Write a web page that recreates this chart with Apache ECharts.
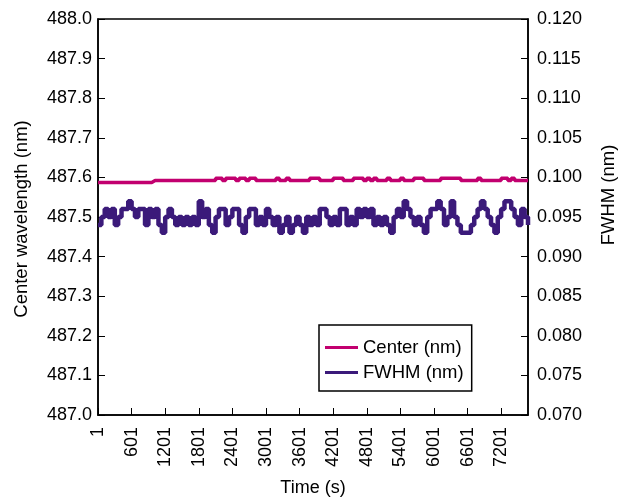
<!DOCTYPE html>
<html>
<head>
<meta charset="utf-8">
<script src="https://cdn.jsdelivr.net/npm/echarts@6/dist/echarts.min.js"></script>
<style>
html,body{margin:0;padding:0;background:#fff;}
#chart{width:630px;height:501px;}
</style>
</head>
<body>
<div id="chart"></div>
<script>
// ---- Data ----
const SAMPLE_STEP_S = 60;      // seconds between samples
const TIME_MAX_S = 7680;
const TIME_TICK_STEP = 600;
const seriesNames = ['Center (nm)', 'FWHM (nm)'];

const centerNm = [
  487.587,487.587,487.587,487.587,487.587,487.587,487.587,487.587,
  487.587,487.587,487.587,487.587,487.587,487.587,487.587,487.587,
  487.592,487.592,487.592,487.592,487.592,487.592,487.592,487.592,487.592,487.592,
  487.592,487.592,487.592,487.592,487.592,487.592,487.592,487.592,487.592,
  487.598,487.598,487.592,487.598,487.598,487.598,487.592,487.598,487.598,487.592,487.598,487.598,
  487.592,487.592,487.592,487.592,487.592,487.592,
  487.598,487.592,487.592,487.598,
  487.592,487.592,487.592,487.592,487.592,487.592,
  487.598,487.598,487.598,
  487.592,487.592,487.592,487.592,
  487.598,487.598,487.598,
  487.592,487.592,487.592,
  487.598,487.598,487.598,
  487.592,487.598,487.592,487.598,
  487.592,487.592,487.592,
  487.598,
  487.592,487.592,487.592,
  487.598,
  487.592,487.592,487.592,
  487.598,487.598,487.598,
  487.592,487.592,487.592,487.592,487.592,
  487.598,487.598,487.598,487.598,487.598,487.598,
  487.592,487.592,487.592,487.592,487.592,
  487.598,
  487.592,487.592,487.592,487.592,487.592,487.592,
  487.598,487.598,
  487.592,487.598,
  487.592,487.592,487.592,487.592,487.592
];

const fwhmNm = [
  0.094,0.095,0.096,0.095,0.096,0.094,0.095,0.096,0.096,0.097,
  0.096,0.095,0.096,0.096,0.094,0.096,0.095,0.096,0.094,0.093,
  0.095,0.096,0.095,0.094,0.095,0.094,0.095,
  0.094,0.095,0.094,0.097,0.095,0.096,0.094,0.093,0.095,0.096,
  0.096,0.094,0.095,0.096,0.096,0.094,0.093,0.095,0.096,0.096,
  0.094,0.095,0.094,0.096,0.095,0.094,
  0.095,0.093,0.094,0.095,0.093,0.094,0.095,0.094,0.093,0.095,
  0.094,0.095,0.094,0.096,0.096,0.095,0.094,0.095,0.094,0.096,
  0.096,0.094,0.095,0.094,0.096,0.095,
  0.096,0.095,0.096,0.094,0.095,0.094,0.095,0.094,0.093,0.095,
  0.096,0.095,0.097,0.096,0.095,0.094,0.095,0.094,0.093,0.095,
  0.096,0.096,0.097,0.096,0.094,0.095,
  0.097,0.095,0.094,0.093,0.093,0.093,0.094,0.095,0.096,0.097,
  0.096,0.095,0.094,0.093,0.095,0.096,0.097,0.097,0.096,0.095,
  0.094,0.096,0.095,0.094
];

// ---- Build chart ----
const FONT = '"Liberation Sans", Arial, Helvetica, sans-serif';
const centerData = centerNm.map((v, i) => [i * SAMPLE_STEP_S, v]);
const fwhmData = fwhmNm.map((v, i) => [i * SAMPLE_STEP_S, v]);
const lineIcon = 'path://M0,0 L33,0 L33,3 L0,3 Z';

const chart = echarts.init(document.getElementById('chart'), null, {renderer: 'canvas'});
chart.setOption({
  animation: false,
  backgroundColor: '#fff',
  textStyle: {fontFamily: FONT, color: '#000'},
  grid: {left: 98, right: 102, top: 19, bottom: 86, show: true, borderColor: '#000', borderWidth: 1.5},
  xAxis: {
    type: 'value', min: 0, max: TIME_MAX_S, interval: TIME_TICK_STEP,
    axisLine: {lineStyle: {color: '#000', width: 1.5}},
    axisTick: {inside: true, length: 7, lineStyle: {color: '#000', width: 1}},
    splitLine: {show: false},
    axisLabel: {rotate: 90, margin: 12, fontSize: 18, color: '#000', fontFamily: FONT,
      showMaxLabel: false, formatter: v => String(v + 1)}
  },
  yAxis: [{
    type: 'value', min: 487.0, max: 488.0, interval: 0.1,
    axisLine: {show: true, lineStyle: {color: '#000', width: 1.5}},
    axisTick: {show: true, inside: true, length: 7, lineStyle: {color: '#000', width: 1}},
    splitLine: {show: false},
    axisLabel: {margin: 6, fontSize: 18, color: '#000', fontFamily: FONT, formatter: v => v.toFixed(1)}
  }, {
    type: 'value', min: 0.07, max: 0.12, interval: 0.005, position: 'right',
    axisLine: {show: true, lineStyle: {color: '#000', width: 1.5}},
    axisTick: {show: true, inside: true, length: 7, lineStyle: {color: '#000', width: 1}},
    splitLine: {show: false},
    axisLabel: {margin: 9, fontSize: 18, color: '#000', fontFamily: FONT, formatter: v => v.toFixed(3)}
  }],
  legend: {
    orient: 'vertical', left: 319, top: 325,
    data: [{name: seriesNames[0], icon: lineIcon}, {name: seriesNames[1], icon: lineIcon}],
    itemWidth: 33, itemHeight: 3, itemGap: 4,
    padding: [12, 8, 8, 6],
    borderColor: '#000', borderWidth: 1.5, backgroundColor: '#fff',
    textStyle: {fontSize: 18.5, color: '#000', fontFamily: FONT, lineHeight: 21},
    selectedMode: false
  },
  series: [{
    name: seriesNames[0], type: 'line', step: 'end', yAxisIndex: 0,
    data: centerData, symbol: 'none', color: '#c2006f',
    lineStyle: {color: '#c2006f', width: 3.5}
  }, {
    name: seriesNames[1], type: 'line', step: 'end', yAxisIndex: 1,
    data: fwhmData, symbol: 'none', color: '#3b1a7a',
    lineStyle: {color: '#3b1a7a', width: 4.5}
  }],
  graphic: [
    {type: 'text', x: 22, y: 219, rotation: Math.PI / 2,
     style: {text: 'Center wavelength (nm)', font: '18.5px ' + FONT, fill: '#000', align: 'center', verticalAlign: 'middle'}},
    {type: 'text', x: 609, y: 195, rotation: Math.PI / 2,
     style: {text: 'FWHM (nm)', font: '18.5px ' + FONT, fill: '#000', align: 'center', verticalAlign: 'middle'}},
    {type: 'text', x: 313, y: 488,
     style: {text: 'Time (s)', font: '18px ' + FONT, fill: '#000', align: 'center', verticalAlign: 'middle'}}
  ]
});
</script>
</body>
</html>
